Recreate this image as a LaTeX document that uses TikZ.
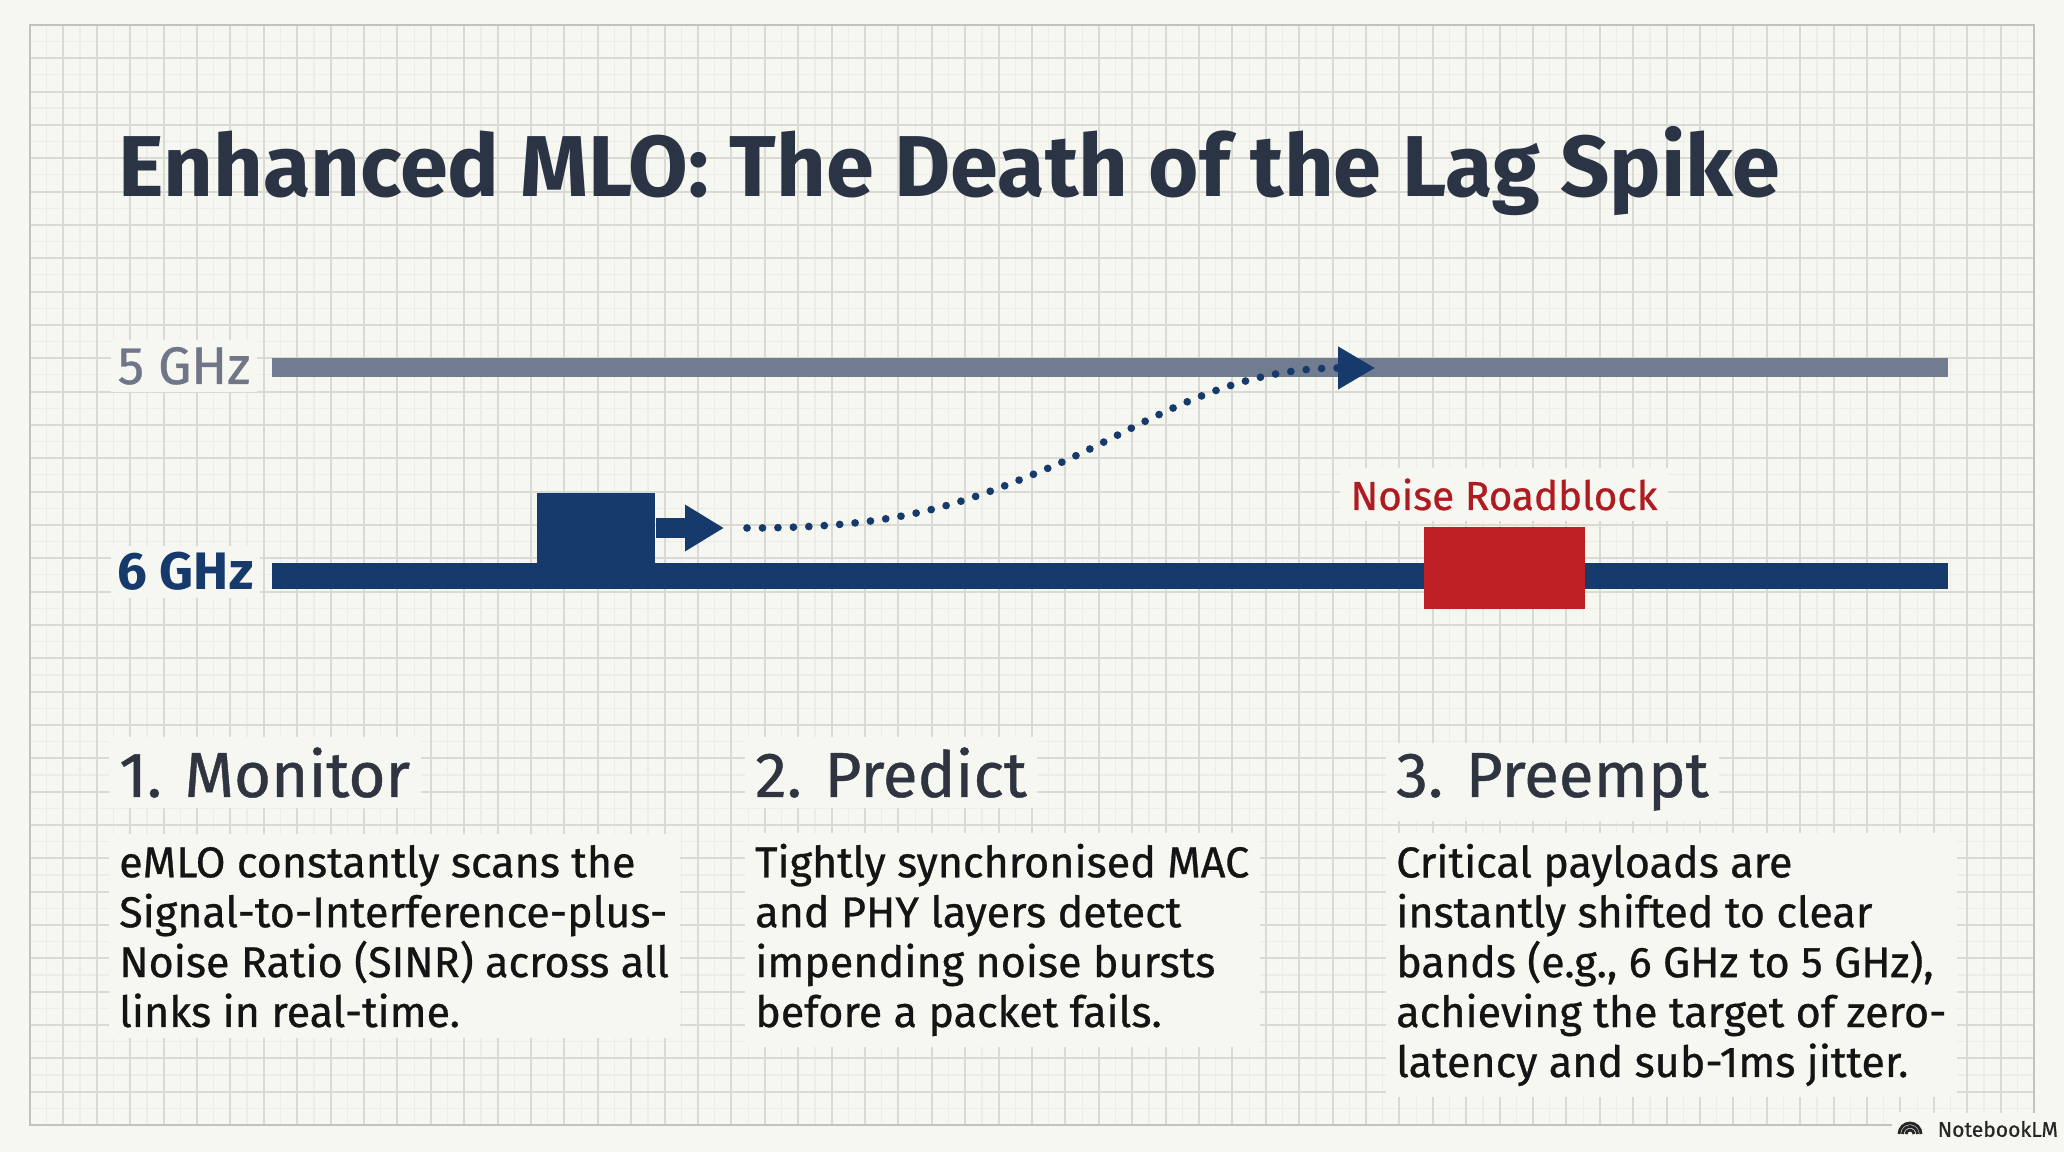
\documentclass[tikz,border=0pt]{standalone}
\usepackage{fontspec}
\setmainfont{Fira Sans}
\newfontfamily\medfont{Fira Sans}[FakeBold=0.7]
\usepackage{xcolor}
\usetikzlibrary{positioning,arrows.meta}
\definecolor{paper}    {HTML}{F7F7F2}
\definecolor{gridmaj}  {HTML}{DADAD5}
\definecolor{gridmin}  {HTML}{EDEDE8}
\definecolor{framec}   {HTML}{C2C2BE}
\definecolor{titleink} {HTML}{2B3445}
\definecolor{headink}  {HTML}{2F3441}
\definecolor{bodyink}  {HTML}{141414}
\definecolor{slate}    {HTML}{717C90}
\definecolor{slatetxt} {HTML}{6E7688}
\definecolor{navy}     {HTML}{173A6C}
\definecolor{block}    {HTML}{BE2025}
\definecolor{blocktxt} {HTML}{AE1C22}
\tikzset{
  frame/.style    = {draw=framec, line width=0.8pt},
  band5/.style    = {draw=slate, line width=5.4pt},
  band6/.style    = {draw=navy, line width=7.4pt},
  lanelbl/.style  = {font=\medfont\fontsize{15}{18}\selectfont, fill=paper, inner sep=2pt},
  packet/.style   = {fill=navy, minimum width=11.8mm, minimum height=7mm, inner sep=0pt},
  push/.style     = {draw=navy, line width=5.7pt,
                     -{Triangle[length=3.9mm, width=4.4mm]}},
  hop/.style      = {draw=navy, line width=2.2pt, line cap=round,
                     dash pattern=on 0pt off 4.4pt,
                     -{Triangle[length=3.7mm, width=4.1mm]}},
  noise/.style    = {fill=block, minimum width=16.1mm, minimum height=8.2mm, inner sep=0pt},
  noiselbl/.style = {font=\medfont\fontsize{11.5}{14}\selectfont, text=blocktxt, fill=paper, inner sep=3pt},
  head/.style     = {font=\medfont\fontsize{18.1}{22}\selectfont, text=headink, fill=paper,
                     inner sep=3pt, anchor=base west},
  body/.style     = {font=\medfont\fontsize{12.25}{14.2}\selectfont, text=bodyink, fill=paper,
                     align=left, inner sep=3pt, anchor=base west},
  wmark/.style    = {font=\medfont\fontsize{6}{7}\selectfont, text=black!85, fill=paper, inner sep=2pt},
}

\begin{document}
\begin{tikzpicture}
  \useasboundingbox (0,0) rectangle (20.64,11.52);
  \fill[paper] (0,0) rectangle (20.64,11.52);

  % squared paper inside the frame
  \begin{scope}[shift={(0.30,0.27)}]
    \draw[gridmin, line width=0.35pt, xstep=0.167, ystep=0.1667] (0,0) grid (20.04,11.00);
    \draw[gridmaj, line width=0.6pt, xstep=0.334, ystep=0.3333] (0,0) grid (20.04,11.00);
  \end{scope}
  \draw[frame] (0.30,0.27) rectangle (20.34,11.27);

  % headline
  \node[font=\fontsize{24.6}{28}\selectfont\bfseries, text=titleink, anchor=base west, inner sep=0pt]
    (title) at (1.18,9.55) {Enhanced MLO: The Death of the Lag Spike};

  % the two bands
  \draw[band5] (2.72,7.84) -- (19.48,7.84);
  \draw[band6] (2.72,5.76) -- (19.48,5.76);
  \node[lanelbl, text=slatetxt, anchor=base west] (lbl5) at (1.10,7.68) {5 GHz};
  \node[lanelbl, text=navy, anchor=base west, font=\fontsize{15}{18}\selectfont\bfseries]
    (lbl6) at (1.10,5.62) {6 GHz};

  % packet leaving the 6 GHz band
  \node[packet] (pkt) at (5.96,6.24) {};
  \coordinate (pkttip) at (7.24,6.24);
  \draw[push] (pkt.east) -- (pkttip);

  % predicted hop onto 5 GHz
  \coordinate (hopstart) at (7.47,6.24);
  \coordinate (landing) at (13.75,7.84);
  \draw[hop] (hopstart) .. controls (9.0,6.24) and (9.6,6.47) .. (10.51,6.85)
                        .. controls (11.40,7.23) and (12.2,7.84) .. (landing);

  % noise on the 6 GHz band
  \node[noise] (noise) at (15.045,5.84) {};
  \node[noiselbl, anchor=base] (noiselbl) at (15.04,6.42) {Noise Roadblock};

  % three steps (base of a multi-line node is its last line)
  \node[head] (h1) at (1.08,3.55) {1. Monitor};
  \node[head] (h2) at (7.44,3.55) {2. Predict};
  \node[head] (h3) at (13.85,3.55) {3. Preempt};

  \node[body] (b1) at (1.08,1.25)
    {eMLO constantly scans the\\Signal-to-Interference-plus-\\Noise Ratio (SINR) across all\\links in real-time.};
  \node[body] (b2) at (7.44,1.25)
    {Tightly synchronised MAC\\and PHY layers detect\\impending noise bursts\\before a packet fails.};
  \node[body] (b3) at (13.85,0.75)
    {Critical payloads are\\instantly shifted to clear\\bands (e.g., 6 GHz to 5 GHz),\\achieving the target of zero-\\latency and sub-1ms jitter.};

  % badge, bottom right
  \node[wmark, anchor=west, minimum height=3.2mm] (badge) at (19.30,0.23) {NotebookLM};
  \fill[paper] (18.92,0.07) rectangle (19.32,0.40);
  \foreach \r in {0.04,0.075,0.11}
    \draw[black!85, line width=0.8pt] (19.10+\r,0.18) arc (0:180:\r);
\end{tikzpicture}
\end{document}
